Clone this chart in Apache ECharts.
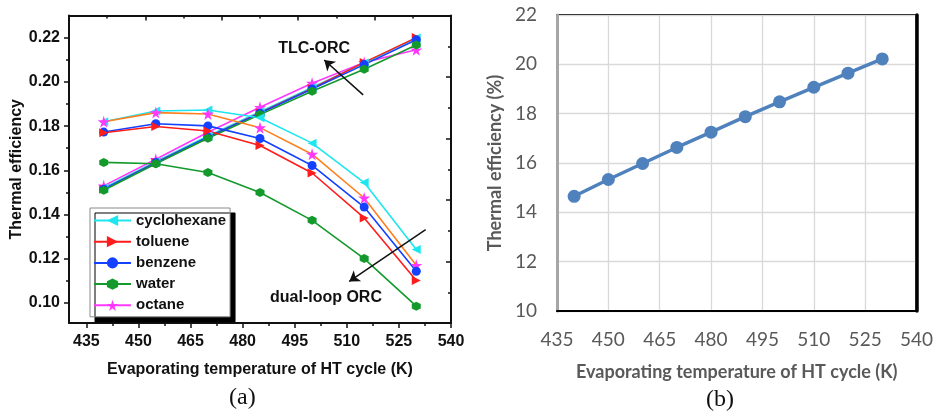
<!DOCTYPE html>
<html>
<head>
<meta charset="utf-8">
<script src="https://cdn.jsdelivr.net/npm/echarts@6/dist/echarts.min.js"></script>
<style>
  html, body { margin: 0; padding: 0; background: #fff; }
  #chart { width: 939px; height: 418px; }
</style>
</head>
<body>
<div id="chart"></div>
<script>
// ---- (a) thermal efficiency vs HT evaporating temperature, two cycle layouts ----
const tempA = [440, 455, 470, 485, 500, 515, 530];
const fluids = ['cyclohexane', 'toluene', 'benzene', 'water', 'octane'];

// TLC-ORC (rising branch)
const tlcCyclohexane = [0.152, 0.164, 0.1755, 0.1865, 0.1975, 0.2085, 0.2198];
const tlcToluene     = [0.1515, 0.1635, 0.175, 0.186, 0.197, 0.2088, 0.2200];
const tlcBenzene     = [0.1515, 0.1635, 0.175, 0.1858, 0.1968, 0.2078, 0.2190];
const tlcWater       = [0.151, 0.163, 0.1745, 0.1852, 0.1958, 0.2057, 0.2167];
const tlcOctane      = [0.153, 0.165, 0.1772, 0.1885, 0.1994, 0.2088, 0.2145];

// dual-loop ORC (falling branch)
const dualCyclohexane = [0.182, 0.1868, 0.1873, 0.1838, 0.1723, 0.1545, 0.1242];
const dualToluene     = [0.177, 0.1798, 0.1778, 0.1712, 0.1588, 0.1385, 0.1102];
const dualBenzene     = [0.1773, 0.1811, 0.1801, 0.1744, 0.1622, 0.1434, 0.1144];
const dualWater       = [0.1636, 0.163, 0.159, 0.150, 0.1374, 0.1201, 0.0986];
const dualOctane      = [0.182, 0.1861, 0.1855, 0.1793, 0.1673, 0.1475, 0.1171];

const xTicksA = [435, 450, 465, 480, 495, 510, 525, 540];
const xMinorA = [442.5, 457.5, 472.5, 487.5, 502.5, 517.5, 532.5];
const yTicksA = [0.10, 0.12, 0.14, 0.16, 0.18, 0.20, 0.22];
const yMinorA = [0.11, 0.13, 0.15, 0.17, 0.19, 0.21];

// annotation arrows and captions, in data units of panel (a)
const tlcArrow  = [[514.7, 0.1941], [503.5, 0.2099]];
const dualArrow = [[532.7, 0.1332], [510.7, 0.1098]];
const tlcText   = [500.6, 0.2152];
const dualText  = [504.0, 0.1027];

// ---- (b) ----
const tempB = [440, 450, 460, 470, 480, 490, 500, 510, 520, 530];
const effB  = [14.65, 15.33, 15.98, 16.63, 17.25, 17.88, 18.48, 19.07, 19.64, 20.22];

const FA = 'Liberation Sans, Arial, sans-serif';
const FB = 'Lato, Liberation Sans, sans-serif';

const C = {
  cyclohexane: '#1ee6ef',
  toluene: '#ff1c1c',
  benzene: '#1440ff',
  water: '#149a2c',
  octane: '#ff38ff',
  octaneDual: '#ff7f1e'
};
const STAR = 'path://M50,0 L61,35 L98,35 L68,57 L79,91 L50,70 L21,91 L32,57 L2,35 L39,35 Z';
const HEX = 'path://M50,0 L93,25 L93,75 L50,100 L7,75 L7,25 Z';

const SYM = {
  cyclohexane: { symbol: 'triangle', symbolRotate: 90, symbolSize: 9 },
  toluene: { symbol: 'triangle', symbolRotate: -90, symbolSize: 9 },
  benzene: { symbol: 'circle', symbolRotate: 0, symbolSize: 9 },
  water: { symbol: HEX, symbolRotate: 0, symbolSize: 9 },
  octane: { symbol: STAR, symbolRotate: 0, symbolSize: 12 }
};

function pairs(xs, ys) { return xs.map((x, i) => [x, ys[i]]); }

function lineSeries(name, ys, lineColor, markColor) {
  const s = SYM[name];
  return {
    type: 'line', name: name,
    xAxisIndex: 0, yAxisIndex: 0,
    data: pairs(tempA, ys),
    symbol: s.symbol, symbolRotate: s.symbolRotate, symbolSize: s.symbolSize,
    showAllSymbol: true,
    lineStyle: { color: lineColor, width: 1.6 },
    itemStyle: { color: markColor || lineColor },
    z: 3
  };
}

const seriesA = [
  lineSeries('octane', tlcOctane, C.octane),
  lineSeries('cyclohexane', tlcCyclohexane, C.cyclohexane),
  lineSeries('toluene', tlcToluene, C.toluene),
  lineSeries('benzene', tlcBenzene, C.benzene),
  lineSeries('water', tlcWater, C.water),
  lineSeries('cyclohexane', dualCyclohexane, C.cyclohexane),
  lineSeries('octane', dualOctane, C.octaneDual, C.octane),
  lineSeries('benzene', dualBenzene, C.benzene),
  lineSeries('toluene', dualToluene, C.toluene),
  lineSeries('water', dualWater, C.water)
];

// arrows and captions ride on the last series
seriesA[seriesA.length - 1].markLine = {
  silent: true,
  animation: false,
  symbol: ['none', 'arrow'],
  symbolSize: 10,
  label: { show: false },
  lineStyle: { color: '#111', width: 1.5, type: 'solid' },
  data: [
    [{ coord: tlcArrow[0] }, { coord: tlcArrow[1] }],
    [{ coord: dualArrow[0] }, { coord: dualArrow[1] }]
  ]
};
seriesA[seriesA.length - 1].markPoint = {
  silent: true,
  animation: false,
  symbol: 'circle',
  symbolSize: 1,
  itemStyle: { color: 'rgba(0,0,0,0)' },
  label: {
    show: true, position: 'inside', formatter: p => p.name,
    fontFamily: FA, fontWeight: 'bold', fontSize: 16, color: '#111'
  },
  data: [
    { name: 'TLC-ORC', coord: tlcText },
    { name: 'dual-loop ORC', coord: dualText }
  ]
};

const gridA = { left: 69, top: 15.5, width: 382, height: 307.5 };
const gridB = { left: 557, top: 15, width: 359.5, height: 296 };

const option = {
  animation: false,
  backgroundColor: '#ffffff',
  grid: [
    Object.assign({}, gridA),
    Object.assign({}, gridA),
    Object.assign({ show: true, borderColor: '#000', borderWidth: 2, backgroundColor: 'transparent' }, gridB)
  ],
  legend: {
    data: fluids,
    orient: 'vertical',
    left: 90, top: 208,
    itemWidth: 37, itemHeight: 14, itemGap: 6.2,
    padding: [5, 4, 4, 3],
    backgroundColor: '#fff',
    borderColor: '#8a8a8a', borderWidth: 1,
    shadowColor: '#000', shadowBlur: 0.5, shadowOffsetX: 5, shadowOffsetY: 5,
    textStyle: { fontFamily: FA, fontWeight: 'bold', fontSize: 15, lineHeight: 14, color: '#111' },
    selectedMode: false
  },
  xAxis: [
    { // (a) bottom, major ticks + labels
      gridIndex: 0, type: 'value', min: 430, max: 540, position: 'bottom',
      axisLine: { show: true, onZero: false, lineStyle: { color: '#111', width: 2 } },
      axisTick: { show: true, customValues: xTicksA, length: 5, lineStyle: { color: '#111', width: 1.5 } },
      axisLabel: { customValues: xTicksA, margin: 11, fontFamily: FA, fontWeight: 'bold', fontSize: 16, color: '#111' },
      splitLine: { show: false },
      name: 'Evaporating temperature of HT cycle (K)', nameLocation: 'middle', nameGap: 39,
      nameTextStyle: { fontFamily: FA, fontWeight: 'bold', fontSize: 16, color: '#111' }
    },
    { // (a) top frame
      gridIndex: 0, type: 'value', min: 0, max: 5, interval: 1, position: 'top',
      axisLine: { show: true, onZero: false, lineStyle: { color: '#111', width: 2 } },
      axisTick: { show: true, inside: true, length: 5, lineStyle: { color: '#111', width: 1.5 } },
      minorTick: { show: true, splitNumber: 2, length: 3, lineStyle: { color: '#111', width: 1.5 } },
      axisLabel: { show: false }, splitLine: { show: false }
    },
    { // (a) bottom minor ticks
      gridIndex: 1, type: 'value', min: 430, max: 540, position: 'bottom',
      axisLine: { show: false, onZero: false },
      axisTick: { show: true, customValues: xMinorA, length: 3, lineStyle: { color: '#111', width: 1.5 } },
      axisLabel: { show: false }, splitLine: { show: false }
    },
    { // (b)
      gridIndex: 2, type: 'value', min: 435, max: 540, interval: 15, position: 'bottom',
      axisLine: { show: true, onZero: false, lineStyle: { color: '#000', width: 2 } },
      axisTick: { show: false },
      axisLabel: { margin: 19, fontFamily: FB, fontSize: 19, color: '#595959' },
      splitLine: { show: true, lineStyle: { color: '#d9d9d9', width: 1.3 } },
      name: 'Evaporating temperature of HT cycle (K)', nameLocation: 'middle', nameGap: 52,
      nameTextStyle: { fontFamily: FB, fontWeight: 'bold', fontSize: 18, color: '#595959' }
    }
  ],
  yAxis: [
    { // (a) left, major ticks + labels
      gridIndex: 0, type: 'value', min: 0.091, max: 0.23, position: 'left',
      axisLine: { show: true, onZero: false, lineStyle: { color: '#111', width: 2 } },
      axisTick: { show: true, customValues: yTicksA, length: 5, lineStyle: { color: '#111', width: 1.5 } },
      axisLabel: { customValues: yTicksA, margin: 9, formatter: v => v.toFixed(2),
        fontFamily: FA, fontWeight: 'bold', fontSize: 16, color: '#111' },
      splitLine: { show: false },
      name: 'Thermal efficiency', nameLocation: 'middle', nameGap: 44,
      nameTextStyle: { fontFamily: FA, fontWeight: 'bold', fontSize: 16, color: '#111' }
    },
    { // (a) right frame
      gridIndex: 0, type: 'value', min: 0, max: 5, interval: 1, position: 'right',
      axisLine: { show: true, onZero: false, lineStyle: { color: '#111', width: 2 } },
      axisTick: { show: true, inside: true, length: 5, lineStyle: { color: '#111', width: 1.5 } },
      minorTick: { show: true, splitNumber: 2, length: 3, lineStyle: { color: '#111', width: 1.5 } },
      axisLabel: { show: false }, splitLine: { show: false }
    },
    { // (a) left minor ticks
      gridIndex: 1, type: 'value', min: 0.091, max: 0.23, position: 'left',
      axisLine: { show: false, onZero: false },
      axisTick: { show: true, customValues: yMinorA, length: 3, lineStyle: { color: '#111', width: 1.5 } },
      axisLabel: { show: false }, splitLine: { show: false }
    },
    { // (b)
      gridIndex: 2, type: 'value', min: 10, max: 22, interval: 2, position: 'left',
      axisLine: { show: true, onZero: false, lineStyle: { color: '#a6a6a6', width: 3 } },
      axisTick: { show: false },
      axisLabel: { margin: 20, fontFamily: FB, fontSize: 19, color: '#595959' },
      splitLine: { show: true, lineStyle: { color: '#d9d9d9', width: 1.3 } },
      name: 'Thermal efficiency (%)', nameLocation: 'middle', nameGap: 53,
      nameTextStyle: { fontFamily: FB, fontWeight: 'bold', fontSize: 18, color: '#595959' }
    },
    { // (b) heavier right edge of the frame
      gridIndex: 2, type: 'value', min: 10, max: 22, interval: 2, position: 'right',
      axisLine: { show: true, onZero: false, lineStyle: { color: '#000', width: 3.5 } },
      axisTick: { show: false }, axisLabel: { show: false }, splitLine: { show: false }
    }
  ],
  series: seriesA.concat([
    {
      type: 'line', name: 'Thermal efficiency (%)',
      xAxisIndex: 3, yAxisIndex: 3,
      data: pairs(tempB, effB),
      symbol: 'circle', symbolSize: 13, showAllSymbol: true,
      lineStyle: { color: '#4f81bd', width: 3.5 },
      itemStyle: { color: '#4f81bd' },
      z: 3
    }
  ]),
  graphic: [
    { type: 'text', left: 229, top: 386, style: { text: '(a)', font: '24px "Liberation Serif", "Times New Roman", serif', fill: '#111' } },
    { type: 'text', left: 706, top: 388, style: { text: '(b)', font: '24px "Liberation Serif", "Times New Roman", serif', fill: '#111' } }
  ]
};

const chart = echarts.init(document.getElementById('chart'), null, { renderer: 'canvas' });
chart.setOption(option);
</script>
</body>
</html>
